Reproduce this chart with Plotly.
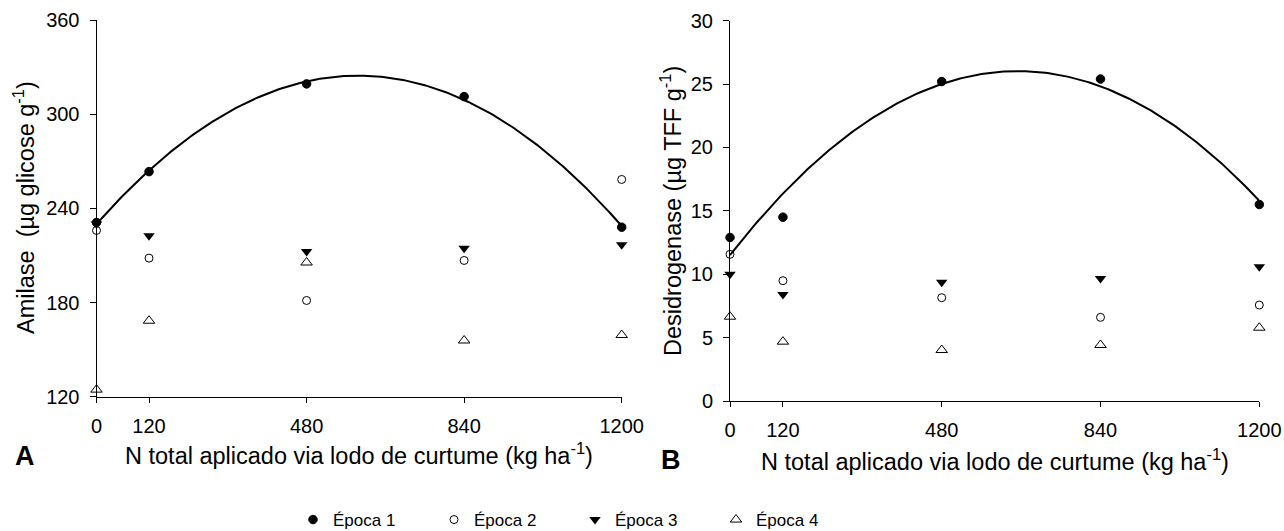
import numpy as np
import plotly.graph_objects as go

# ---------------- data ----------------
doses = [0, 120, 480, 840, 1200]
x_ticks = [0, 120, 480, 840, 1200]

# Panel A - Amilase (µg glicose g-1)
amil_ep1 = [231, 263.4, 319.3, 311.2, 228]
amil_ep2 = [225.9, 208.3, 181.3, 206.8, 258.4]
amil_ep3 = [230, 222.5, 212.5, 214.6, 216.8]
amil_ep4 = [124.5, 168.4, 205.5, 155.8, 159.3]
amil_yticks = [120, 180, 240, 300, 360]

# Panel B - Desidrogenase (µg TFF g-1)
desi_ep1 = [12.9, 14.5, 25.2, 25.4, 15.5]
desi_ep2 = [11.57, 9.49, 8.15, 6.6, 7.57]
desi_ep3 = [10.0, 8.4, 9.36, 9.67, 10.6]
desi_ep4 = [6.65, 4.68, 4.02, 4.42, 5.78]
desi_yticks = [0, 5, 10, 15, 20, 25, 30]

series_names = ["Época 1", "Época 2", "Época 3", "Época 4"]

# ---------------- layout helpers ----------------
W, H = 1284, 531
FONT = "Liberation Sans, Arial, sans-serif"

def px_x(p):
    return p / W

def px_y(p):
    return 1 - p / H

styles = [
    dict(symbol="circle", size=8.5, color="black", line=dict(width=1, color="black")),
    dict(symbol="circle-open", size=8, color="black", line=dict(width=1, color="black")),
    dict(symbol="triangle-down", size=10, color="black", line=dict(width=0, color="black")),
    dict(symbol="triangle-up-open", size=10, color="black", line=dict(width=1, color="black")),
]

fig = go.Figure()

def add_panel(xa, ya, ys, show):
    # regression curve for Época 1 (quadratic)
    coef = np.polyfit(doses, ys[0], 2)
    xf = np.linspace(0, 1200, 241)
    fig.add_trace(go.Scatter(x=xf, y=np.polyval(coef, xf), mode="lines",
                             line=dict(color="black", width=2),
                             xaxis=xa, yaxis=ya, showlegend=False, hoverinfo="skip"))
    for i in [3, 2, 1, 0]:
        fig.add_trace(go.Scatter(x=doses, y=ys[i], mode="markers", name=series_names[i],
                                 marker=styles[i], xaxis=xa, yaxis=ya,
                                 showlegend=show, legendrank=i + 1, cliponaxis=False))

add_panel("x", "y", [amil_ep1, amil_ep2, amil_ep3, amil_ep4], True)
add_panel("x2", "y2", [desi_ep1, desi_ep2, desi_ep3, desi_ep4], False)

axis_common = dict(showgrid=False, zeroline=False, showline=True, linecolor="black",
                   linewidth=1, ticks="outside", tickcolor="black", tickwidth=1,
                   automargin=False,
                   tickfont=dict(family=FONT, size=20, color="black"))

fig.update_layout(
    width=W, height=H,
    margin=dict(l=0, r=0, t=0, b=0, autoexpand=False),
    paper_bgcolor="white", plot_bgcolor="white",
    font=dict(family=FONT, color="black"),
    xaxis=dict(domain=[px_x(96.5), px_x(621.7)], range=[0, 1200], tickvals=x_ticks,
               ticklen=5, ticklabelstandoff=6, anchor="y", **axis_common),
    yaxis=dict(domain=[px_y(396.7), px_y(20)], range=[120, 360], tickvals=amil_yticks,
               ticklen=6, ticklabelstandoff=6, anchor="x", **axis_common),
    xaxis2=dict(domain=[px_x(730), px_x(1259.3)], range=[0, 1200], tickvals=x_ticks,
                ticklen=5, ticklabelstandoff=6, anchor="y2", **axis_common),
    yaxis2=dict(domain=[px_y(401), px_y(20.7)], range=[0, 30], tickvals=desi_yticks,
                ticklen=6, ticklabelstandoff=6, anchor="x2", **axis_common),
    showlegend=True,
    legend=dict(orientation="h", x=px_x(293), y=px_y(520), xanchor="left", yanchor="middle",
                entrywidth=96, font=dict(family=FONT, size=17, color="black"),
                bgcolor="rgba(0,0,0,0)", traceorder="normal"),
)

title_font = dict(family=FONT, size=23.5, color="black")
annotations = [
    dict(text="Amilase  (µg glicose g<sup>-1</sup>)", x=px_x(24), y=px_y(208), textangle=-90,
         font=title_font),
    dict(text="N total aplicado via lodo de curtume (kg ha<sup>-1</sup>)", x=px_x(359), y=px_y(454),
         font=title_font),
    dict(text="Desidrogenase (µg TFF g<sup>-1</sup>)", x=px_x(671), y=px_y(211), textangle=-90,
         font=title_font),
    dict(text="N total aplicado via lodo de curtume (kg ha<sup>-1</sup>)", x=px_x(995), y=px_y(460),
         font=title_font),
    dict(text="<b>A</b>", x=px_x(25), y=px_y(456), font=dict(family=FONT, size=27, color="black")),
    dict(text="<b>B</b>", x=px_x(671), y=px_y(460), font=dict(family=FONT, size=27, color="black")),
]
for a in annotations:
    a.update(xref="paper", yref="paper", xanchor="center", yanchor="middle", showarrow=False)
fig.update_layout(annotations=annotations)

fig.write_html("out.html")
